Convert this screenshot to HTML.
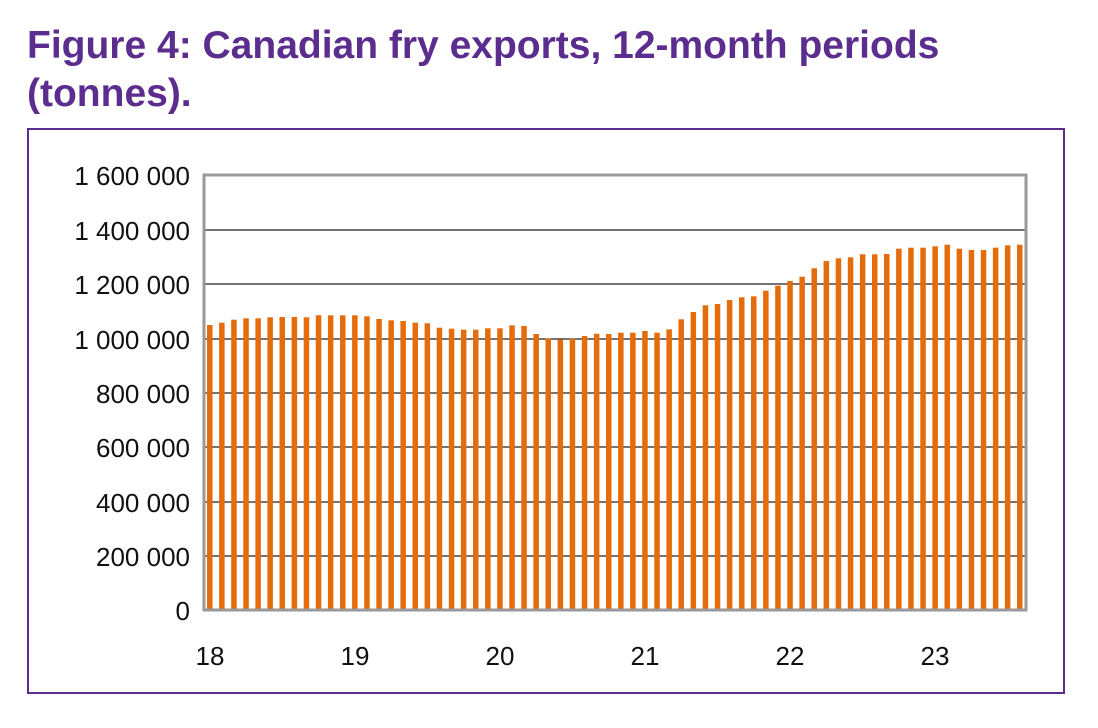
<!DOCTYPE html>
<html><head><style>
body{margin:0;background:#fff;width:1098px;height:728px;overflow:hidden;font-family:"Liberation Sans",sans-serif}
.t{position:absolute;left:27px;top:22px;color:#5b2d8e;font-weight:bold;font-size:39px;line-height:48px;white-space:nowrap}
.box{position:absolute;left:27px;top:128px;width:1034px;height:562px;border:2px solid #5b2d8e}
</style></head><body>
<div class="t">Figure 4: Canadian fry exports, 12-month periods<br>(tonnes).</div>
<div class="box"></div>
<svg width="1098" height="728" style="position:absolute;left:0;top:0" font-family="Liberation Sans, sans-serif" font-size="26" fill="#111">
<g stroke="#222" stroke-width="1.3">
<line x1="204" x2="1026" y1="230" y2="230"/><line x1="204" x2="1026" y1="284" y2="284"/><line x1="204" x2="1026" y1="339" y2="339"/><line x1="204" x2="1026" y1="393" y2="393"/><line x1="204" x2="1026" y1="447" y2="447"/><line x1="204" x2="1026" y1="502" y2="502"/><line x1="204" x2="1026" y1="556" y2="556"/>
</g>
<g id="bars" fill="#e46c0a"></g>
<rect x="204" y="175" width="822" height="435" fill="none" stroke="#999" stroke-width="3"/>
<g text-anchor="end">
<text x="190" y="185">1 600 000</text><text x="190" y="240">1 400 000</text><text x="190" y="294">1 200 000</text><text x="190" y="349">1 000 000</text><text x="190" y="403">800 000</text><text x="190" y="457">600 000</text><text x="190" y="512">400 000</text><text x="190" y="566">200 000</text><text x="190" y="620">0</text>
</g>
<g text-anchor="middle">
<text x="210" y="665">18</text><text x="355" y="665">19</text><text x="500" y="665">20</text><text x="645" y="665">21</text><text x="790" y="665">22</text><text x="935" y="665">23</text>
</g>
</svg>
<script>
var t=[325,322.7,319.7,318.3,318.3,317.3,317,317,317.3,315.3,315.3,315.3,315.3,316.3,319,320.3,321,322.7,323.3,327.7,328.7,329.7,329.7,328.3,328.3,325.3,326,334,338.3,339.7,338.7,336,333.7,334,
332.7,332.7,331,332.7,329.3,319.3,312,305.3,304,300,297.3,296.3,290.7,285.7,281,276.7,268.3,261,258.3,257.3,254.3,254.3,254,248.7,247.7,247.7,246.3,244.7,248.7,250,250,247.7,245.3,244.7];
var g=document.getElementById('bars'),s='';
for(var i=0;i<t.length;i++){var x=207+12.09*i;s+='<rect x="'+x.toFixed(1)+'" y="'+t[i]+'" width="5.5" height="'+(610-t[i]).toFixed(1)+'"/>';}
g.innerHTML=s;
</script>
</body></html>
